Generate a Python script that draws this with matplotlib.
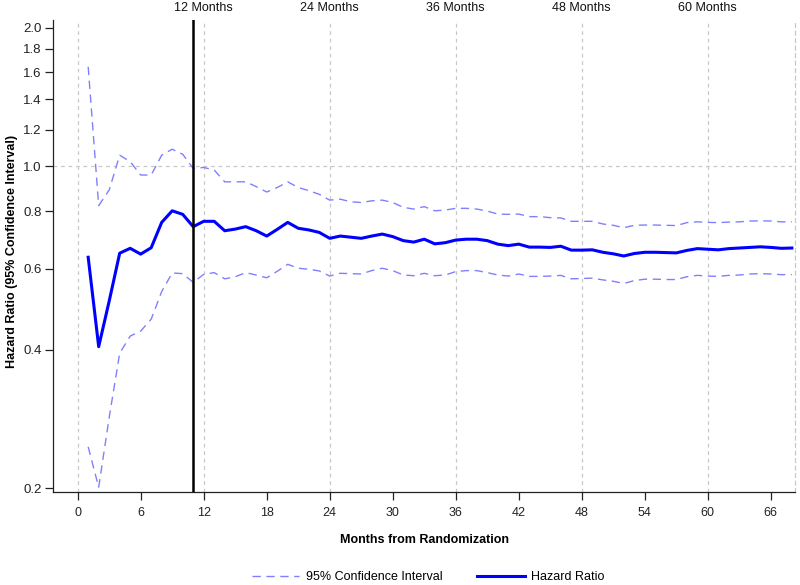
import matplotlib
matplotlib.use("Agg")
import matplotlib.pyplot as plt
from matplotlib.ticker import FixedLocator, FixedFormatter, NullLocator

plt.rcParams['font.family'] = ['Liberation Sans', 'DejaVu Sans']

months = list(range(1, 69))
hazard_ratio = [0.635, 0.406, 0.510, 0.648, 0.664, 0.645, 0.666, 0.756, 0.801, 0.787,
                0.740, 0.760, 0.760, 0.725, 0.731, 0.740, 0.725, 0.706, 0.730, 0.756,
                0.734, 0.728, 0.719, 0.698, 0.706, 0.702, 0.698, 0.706, 0.713, 0.704,
                0.690, 0.685, 0.695, 0.679, 0.683, 0.692, 0.695, 0.695, 0.690, 0.678,
                0.673, 0.678, 0.668, 0.668, 0.667, 0.671, 0.658, 0.658, 0.659, 0.651,
                0.646, 0.639, 0.647, 0.651, 0.651, 0.650, 0.649, 0.657, 0.663, 0.661,
                0.659, 0.663, 0.665, 0.667, 0.669, 0.667, 0.664, 0.665]
ci_upper = [1.646, 0.822, 0.889, 1.058, 1.024, 0.958, 0.958, 1.058, 1.090, 1.063,
            0.990, 0.995, 0.982, 0.926, 0.926, 0.926, 0.904, 0.880, 0.900, 0.926,
            0.900, 0.886, 0.870, 0.845, 0.849, 0.838, 0.835, 0.842, 0.845, 0.835,
            0.815, 0.808, 0.818, 0.801, 0.804, 0.811, 0.811, 0.808, 0.800, 0.788,
            0.787, 0.788, 0.778, 0.778, 0.774, 0.773, 0.760, 0.760, 0.760, 0.750,
            0.745, 0.736, 0.745, 0.746, 0.746, 0.745, 0.744, 0.755, 0.758, 0.756,
            0.755, 0.757, 0.758, 0.761, 0.762, 0.761, 0.758, 0.758]
ci_lower = [0.246, 0.201, 0.285, 0.393, 0.428, 0.439, 0.466, 0.535, 0.587, 0.585,
            0.560, 0.583, 0.588, 0.570, 0.576, 0.588, 0.581, 0.573, 0.592, 0.613,
            0.601, 0.598, 0.593, 0.578, 0.586, 0.585, 0.584, 0.594, 0.601, 0.594,
            0.581, 0.579, 0.586, 0.579, 0.581, 0.591, 0.594, 0.594, 0.588, 0.581,
            0.578, 0.584, 0.577, 0.577, 0.578, 0.580, 0.570, 0.571, 0.572, 0.567,
            0.563, 0.557, 0.565, 0.569, 0.569, 0.568, 0.568, 0.576, 0.580, 0.578,
            0.577, 0.580, 0.581, 0.584, 0.585, 0.584, 0.582, 0.582]

x_ticks = [0, 6, 12, 18, 24, 30, 36, 42, 48, 54, 60, 66]
y_ticks = [0.2, 0.4, 0.6, 0.8, 1.0, 1.2, 1.4, 1.6, 1.8, 2.0]
grid_months = [0, 12, 24, 36, 48, 60]
top_labels = ['12 Months', '24 Months', '36 Months', '48 Months', '60 Months']
top_positions = [12, 24, 36, 48, 60]
cutoff_month = 11

fig = plt.figure(figsize=(8, 5.85), dpi=100)
ax = fig.add_axes([0.06625, 0.159, 0.9275, 0.8068])

grid_kw = dict(color='#c8c8c8', linestyle=(0, (3, 3)), linewidth=0.9, zorder=0)
for g in grid_months:
    ax.axvline(g, **grid_kw)
ax.axhline(1.0, **grid_kw)

ci_color = '#8080ff'
ax.plot(months, ci_upper, color=ci_color, linewidth=1.0, dashes=(6, 4),
        label='95% Confidence Interval')
ax.plot(months, ci_lower, color=ci_color, linewidth=1.0, dashes=(6, 4))
ax.plot(months, hazard_ratio, color='#0000ff', linewidth=2.2, label='Hazard Ratio')
ax.axvline(cutoff_month, color='black', linewidth=1.8, zorder=3)

ax.set_yscale('log')
ax.set_xlim(-2.35, 68.3)
ax.set_ylim(0.1963, 2.08)
ax.yaxis.set_major_locator(FixedLocator(y_ticks))
ax.yaxis.set_major_formatter(FixedFormatter([f'{v:.1f}' for v in y_ticks]))
ax.yaxis.set_minor_locator(NullLocator())
ax.set_xticks(x_ticks)

ax.tick_params(axis='both', direction='out', length=5.5, width=0.9, labelsize=9, colors='#222222')
ax.tick_params(axis='x', pad=5)
ax.tick_params(axis='y', pad=2.5, labelsize=9.5)

ax.spines['top'].set_visible(False)
ax.spines['right'].set_color('#c8c8c8')
ax.spines['right'].set_linestyle((0, (3, 3)))
ax.spines['right'].set_linewidth(0.9)
for s in ['left', 'bottom']:
    ax.spines[s].set_linewidth(0.9)
    ax.spines[s].set_color('#222222')

trans = ax.get_xaxis_transform()
for pos, lab in zip(top_positions, top_labels):
    ax.text(pos, 1.026, lab, transform=trans, ha='center', va='center', fontsize=9, color='#111111')

ax.set_xlabel('Months from Randomization', fontsize=9, fontweight='bold')
ax.xaxis.set_label_coords(0.5, -0.088)
ax.set_ylabel('Hazard Ratio (95% Confidence Interval)', fontsize=9, fontweight='bold')
ax.yaxis.set_label_coords(-0.047, 0.51)

fig.legend(loc='lower center', bbox_to_anchor=(0.535, -0.016), ncol=2, frameon=False,
           fontsize=9, handlelength=3.8, handletextpad=0.5, columnspacing=2.8)

fig.savefig('out.png', dpi=100)
